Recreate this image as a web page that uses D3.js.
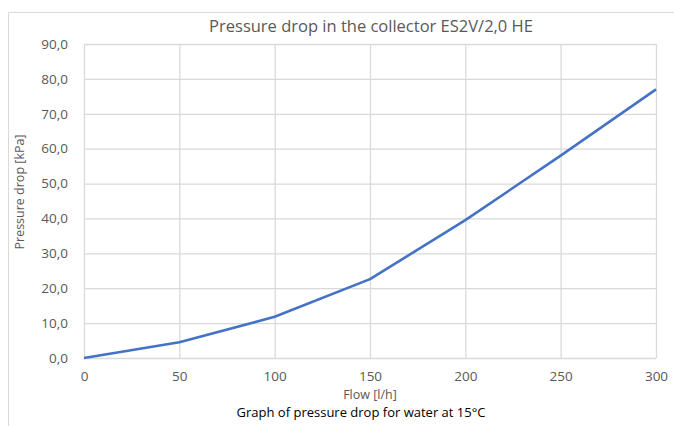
<!DOCTYPE html>
<html>
<head>
<meta charset="utf-8">
<script src="https://cdn.jsdelivr.net/npm/d3@7"></script>
<style>
body { margin: 0; background: #fff; }
text { font-family: "Open Sans", "Liberation Sans", sans-serif; }
</style>
</head>
<body>
<div id="chart"></div>
<script>
// data
var flow = [0, 50, 100, 150, 200, 250, 300];
var pressure = [0, 4.5, 11.8, 22.6, 39.5, 58.0, 77.0];
var xTicks = [0, 50, 100, 150, 200, 250, 300];
var yTicks = [0, 10, 20, 30, 40, 50, 60, 70, 80, 90];

var w = 674, h = 426;
var plotLeft = 84, plotRight = 656, plotTop = 44, plotBottom = 358;

var svg = d3.select("#chart").append("svg")
	.attr("width", w)
	.attr("height", h);

//outer chart border (only top and left are visible)
svg.append("path")
	.attr("d", "M8.5," + h + "V12.5H" + w)
	.attr("fill", "none")
	.attr("stroke", "#d9d9d9")
	.attr("stroke-width", 1);

var x = d3.scaleLinear().domain([0, 300]).range([plotLeft, plotRight]);
var y = d3.scaleLinear().domain([0, 90]).range([plotBottom, plotTop]);

//gridlines
svg.append("g")
	.attr("transform", "translate(0," + plotBottom + ")")
	.call(d3.axisBottom(x).tickValues(xTicks).tickSize(-(plotBottom - plotTop)).tickFormat(""))
	.call(function(g){ g.select(".domain").remove(); })
	.selectAll("line").attr("stroke", "#d9d9d9").attr("stroke-width", 1.3);

svg.append("g")
	.attr("transform", "translate(" + plotLeft + ",0)")
	.call(d3.axisLeft(y).tickValues(yTicks).tickSize(-(plotRight - plotLeft)).tickFormat(""))
	.call(function(g){ g.select(".domain").remove(); })
	.selectAll("line").attr("stroke", "#d9d9d9").attr("stroke-width", 1.3);

//tick labels
var fmt = function(d){ return d3.format(".1f")(d).replace(".", ","); };

svg.append("g")
	.attr("transform", "translate(" + plotLeft + ",0)")
	.call(d3.axisLeft(y).tickValues(yTicks).tickSize(0).tickPadding(16).tickFormat(fmt))
	.call(function(g){ g.select(".domain").remove(); })
	.selectAll("text")
	.attr("fill", "#595959")
	.style("font-size", "13.5px")
	.style("font-family", "Open Sans");

svg.append("g")
	.attr("transform", "translate(0," + plotBottom + ")")
	.call(d3.axisBottom(x).tickValues(xTicks).tickSize(0).tickPadding(13).tickFormat(d3.format("d")))
	.call(function(g){ g.select(".domain").remove(); })
	.selectAll("text")
	.attr("fill", "#595959")
	.style("font-size", "13.5px")
	.style("font-family", "Open Sans");

//the curve
var line = d3.line()
	.x(function(d, i){ return x(flow[i]); })
	.y(function(d){ return y(d); });

svg.append("path")
	.datum(pressure)
	.attr("d", line)
	.attr("fill", "none")
	.attr("stroke", "#4472c4")
	.attr("stroke-width", 2.6)
	.attr("stroke-linejoin", "round");

//titles
svg.append("text")
	.attr("x", 371)
	.attr("y", 32)
	.attr("text-anchor", "middle")
	.attr("fill", "#595959")
	.style("font-size", "16.5px")
	.text("Pressure drop in the collector ES2V/2,0 HE");

svg.append("text")
	.attr("x", 370)
	.attr("y", 399)
	.attr("text-anchor", "middle")
	.attr("fill", "#595959")
	.style("font-size", "12.5px")
	.text("Flow [l/h]");

svg.append("text")
	.attr("transform", "translate(24,192) rotate(-90)")
	.attr("text-anchor", "middle")
	.attr("fill", "#595959")
	.style("font-size", "12.5px")
	.text("Pressure drop [kPa]");

svg.append("text")
	.attr("x", 361)
	.attr("y", 417)
	.attr("text-anchor", "middle")
	.attr("fill", "#000")
	.style("font-size", "13px")
	.text("Graph of pressure drop for water at 15°C");
</script>
</body>
</html>
